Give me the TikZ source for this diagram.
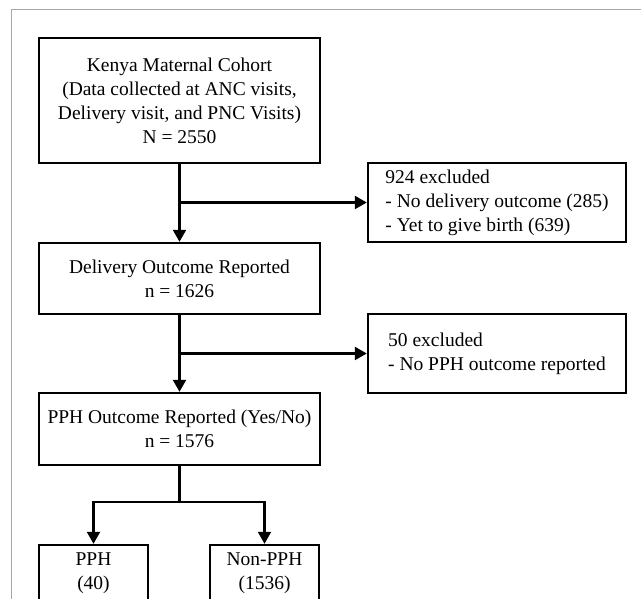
\documentclass[tikz,border=0pt]{standalone}
\usepackage{fontspec}
\setmainfont{Liberation Serif}
\usepackage{tikz}
\usetikzlibrary{arrows.meta,positioning,calc}

\begin{document}
\begin{tikzpicture}[
    x=10pt, y=10pt,
    box/.style={rectangle, draw=black, line width=2.4pt, minimum width=281pt, align=center, inner sep=0pt, font=\fontsize{19.5}{24}\selectfont},
    exclbox/.style={rectangle, draw=black, line width=2.4pt, minimum width=258pt, minimum height=79pt, align=left, inner sep=0pt, font=\fontsize{19.5}{24}\selectfont},
    leafbox/.style={box, minimum width=109pt, minimum height=56pt},
    arrow/.style={-{Triangle[length=12pt,width=13pt]}, line width=2.3pt, black}
]
    \useasboundingbox (0,0) rectangle (64.1,59.9);
    % Frame
    \draw[gray!70, line width=1pt] (1.15,-2) rectangle (66,58.9);

    % Nodes
    \node[box, minimum height=125pt] (cohort) at (17.95,49.85) {Kenya Maternal Cohort\\(Data collected at ANC visits,\\Delivery visit, and PNC Visits)\\N = 2550};
    \node[exclbox] (excl1) at (49.7,39.65) {924 excluded\\- No delivery outcome (285)\\- Yet to give birth (639)};
    \node[box, minimum height=71pt] (delivery) at (17.95,32.05) {Delivery Outcome Reported\\n = 1626};
    \node[exclbox] (excl2) at (49.7,24.55) {50 excluded\\- No PPH outcome reported};
    \node[box, minimum height=72pt] (pphrep) at (17.95,17.0) {PPH Outcome Reported (Yes/No)\\n = 1576};
    \node[leafbox] (pph) at (9.35,2.6) {PPH\\(40)};
    \node[leafbox] (nonpph) at (26.45,2.6) {Non-PPH\\(1536)};
    \coordinate (split) at (17.95,9.7);

    % Arrows
    \draw[arrow] (cohort) -- (delivery);
    \draw[arrow] (cohort.south |- excl1.west) -- (excl1.west);
    \draw[arrow] (delivery) -- (pphrep);
    \draw[arrow] (delivery.south |- excl2.west) -- (excl2.west);
    \draw[line width=2.3pt] (pphrep.south) -- (split);
    \draw[arrow] (split) -| (pph.north);
    \draw[arrow] (split) -| (nonpph.north);
\end{tikzpicture}
\end{document}
